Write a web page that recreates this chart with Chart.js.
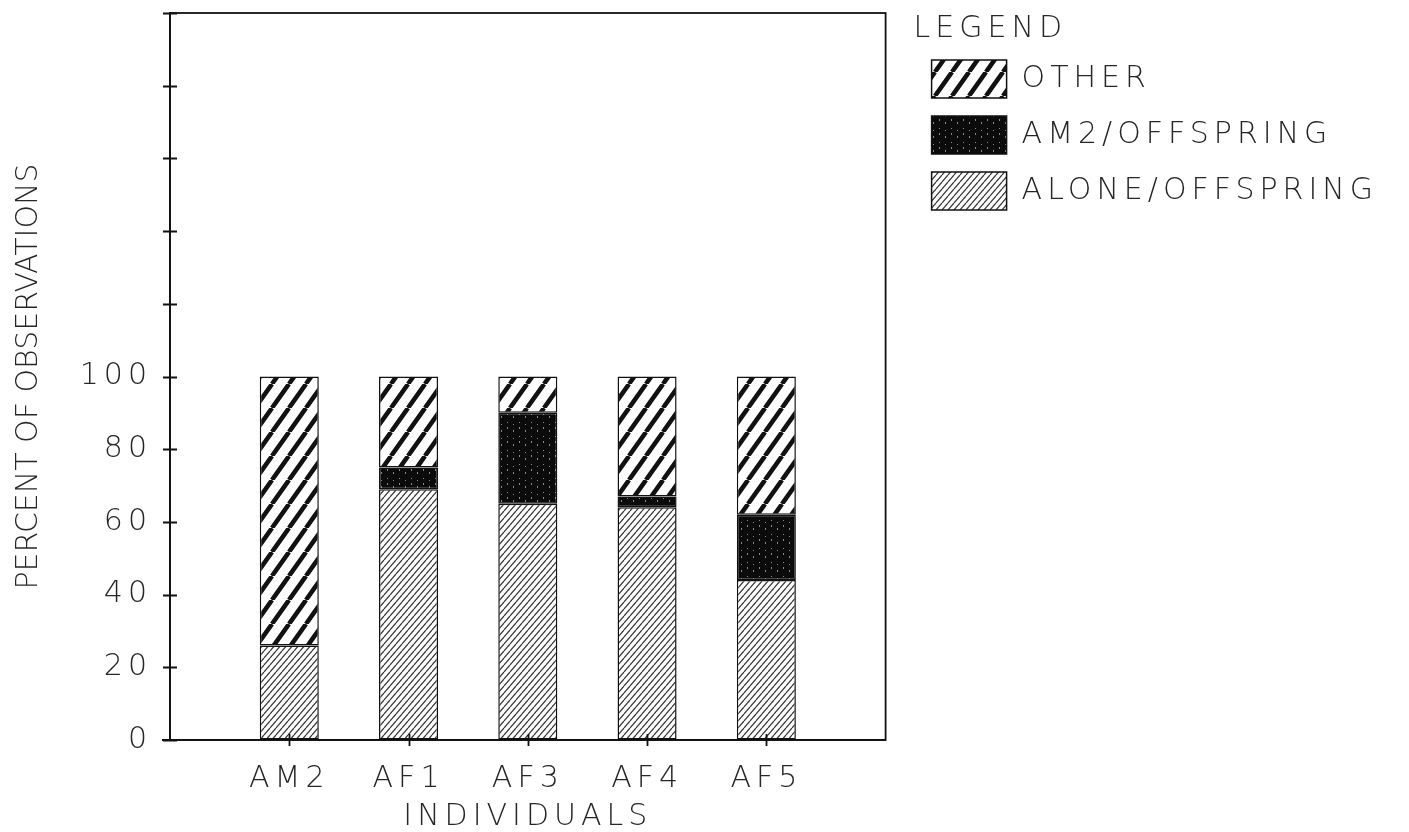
<!DOCTYPE html>
<html>
<head>
<meta charset="utf-8">
<script src="https://cdn.jsdelivr.net/npm/chart.js@4.4.1/dist/chart.umd.min.js"></script>
<style>
html, body { margin: 0; padding: 0; background: #fff; }
#wrap { width: 1409px; height: 832px; }
</style>
</head>
<body>
<div id="wrap"><canvas id="chart"></canvas></div>
<script>
const individuals = ['AM2', 'AF1', 'AF3', 'AF4', 'AF5'];
const aloneOffspring = [26, 69, 65, 64, 44];
const am2Offspring = [0, 6, 25, 3, 18];
const other = [74, 25, 10, 33, 38];
const yLabels = [0, 20, 40, 60, 80, 100]; // axis runs to 200, only these are labelled

const ink = '#111';
const textColor = '#262626';
const fontFamily = '"DejaVu Sans", sans-serif';

function makePattern(w, h, draw) {
    const c = document.createElement('canvas');
    c.width = w;
    c.height = h;
    const g = c.getContext('2d');
    draw(g, w, h);
    return g.createPattern(c, 'repeat');
}

function diagonal(g, w, h) {
    for (const dx of [-w, 0, w]) {
        g.beginPath();
        g.moveTo(dx, h);
        g.lineTo(dx + w, 0);
        g.stroke();
    }
}

// wide bold stripes
const otherFill = makePattern(17, 24, (g, w, h) => {
    g.fillStyle = '#fff';
    g.fillRect(0, 0, w, h);
    g.strokeStyle = ink;
    g.lineWidth = 4.5;
    diagonal(g, w, h);
});

// black with a few light specks
const am2Fill = makePattern(12, 14, (g, w, h) => {
    g.fillStyle = '#0b0b0b';
    g.fillRect(0, 0, w, h);
    g.fillStyle = '#8a8a8a';
    g.fillRect(3, 2, 1, 1);
    g.fillRect(3, 7, 1, 2);
    g.fillRect(9, 4, 1, 1);
    g.fillRect(9, 10, 1, 2);
});

// fine hatching
const aloneFill = makePattern(6, 7, (g, w, h) => {
    g.fillStyle = '#fff';
    g.fillRect(0, 0, w, h);
    g.strokeStyle = '#333';
    g.lineWidth = 1.2;
    diagonal(g, w, h);
});

function points(values) {
    return values.map((v, i) => ({ x: i + 1, y: v }));
}

const font = { family: fontFamily, size: 30, weight: 200, lineHeight: 1 };

// the plotter lettering is widely spaced, except the y title
const spacing = {
    id: 'spacing',
    beforeUpdate(chart) { chart.ctx.letterSpacing = '5px'; },
    afterUpdate(chart) {
        const y = chart.scales.y;
        if (y._plainTitle) return;
        const drawTitle = y.drawTitle;
        y.drawTitle = function () {
            this.ctx.letterSpacing = '0px';
            drawTitle.call(this);
            this.ctx.letterSpacing = '5px';
        };
        y._plainTitle = true;
    },
    beforeDraw(chart) { chart.ctx.letterSpacing = '5px'; }
};

// ticks that cross the axes, plus the frame around the plot
const frame = {
    id: 'frame',
    afterDraw(chart) {
        const { ctx, chartArea: a, scales: { x, y } } = chart;
        ctx.save();
        ctx.strokeStyle = ink;
        ctx.lineWidth = 1.8;
        ctx.strokeRect(a.left, a.top, a.right - a.left, a.bottom - a.top);
        ctx.beginPath();
        y.ticks.forEach(t => {
            const py = Math.round(y.getPixelForValue(t.value)) + 0.5;
            ctx.moveTo(a.left - 7, py);
            ctx.lineTo(a.left + 7, py);
        });
        x.ticks.forEach(t => {
            if (!individuals[t.value - 1]) return;
            const px = Math.round(x.getPixelForValue(t.value)) + 0.5;
            ctx.moveTo(px, a.bottom + 6);
            ctx.lineTo(px, a.bottom - 6);
        });
        ctx.moveTo(a.left - 8, a.bottom);
        ctx.lineTo(a.left, a.bottom);
        ctx.stroke();
        ctx.restore();
    }
};

const barStyle = {
    borderColor: ink,
    borderWidth: 1.5,
    borderSkipped: false,
    barPercentage: 1,
    categoryPercentage: 0.495
};

const ctx = document.getElementById('chart').getContext('2d');
new Chart(ctx, {
    type: 'bar',
    data: {
        datasets: [
            Object.assign({ label: 'ALONE/OFFSPRING', data: points(aloneOffspring), backgroundColor: aloneFill }, barStyle),
            Object.assign({ label: 'AM2/OFFSPRING', data: points(am2Offspring), backgroundColor: am2Fill }, barStyle),
            Object.assign({ label: 'OTHER', data: points(other), backgroundColor: otherFill }, barStyle)
        ]
    },
    options: {
        responsive: true,
        maintainAspectRatio: false,
        animation: false,
        layout: { padding: { top: 13, right: 21, bottom: 0, left: 0 } },
        plugins: {
            tooltip: { enabled: false },
            legend: {
                position: 'right',
                align: 'start',
                reverse: true,
                maxWidth: 700,
                title: {
                    display: true,
                    text: 'LEGEND',
                    position: 'start',
                    color: textColor,
                    font: font,
                    padding: { top: 1, bottom: -2 }
                },
                labels: {
                    boxWidth: 75,
                    boxHeight: 38,
                    padding: 18,
                    color: textColor,
                    font: font
                }
            }
        },
        scales: {
            x: {
                type: 'linear',
                min: 0,
                max: 6,
                offset: false,
                stacked: true,
                ticks: {
                    stepSize: 1,
                    autoSkip: false,
                    maxRotation: 0,
                    padding: 24,
                    color: textColor,
                    font: font,
                    callback: v => individuals[v - 1] || ''
                },
                grid: { display: true, drawOnChartArea: false, drawTicks: false, offset: false },
                border: { color: ink, width: 1.8 },
                title: {
                    display: true,
                    text: 'INDIVIDUALS',
                    color: textColor,
                    font: font,
                    padding: { top: 8, bottom: 0 }
                },
                afterFit: s => { s.height = 92; s.paddingLeft = 0; s.paddingRight = 0; }
            },
            y: {
                min: 0,
                max: 200,
                stacked: true,
                ticks: {
                    stepSize: 20,
                    padding: 18,
                    color: textColor,
                    font: font,
                    callback: v => yLabels.includes(v) ? v : ''
                },
                grid: { display: true, drawOnChartArea: false, drawTicks: false },
                border: { color: ink, width: 1.8 },
                title: {
                    display: true,
                    text: 'PERCENT OF OBSERVATIONS',
                    color: textColor,
                    font: font,
                    padding: { top: 14, bottom: 0 }
                },
                afterFit: s => { s.width = 170; s.paddingTop = 0; s.paddingBottom = 0; }
            },
            gap: {
                position: 'right',
                display: true,
                ticks: { display: false },
                grid: { display: false },
                border: { display: false },
                afterFit: s => { s.width = 28; s.paddingTop = 0; s.paddingBottom = 0; }
            }
        }
    },
    plugins: [spacing, frame]
});
</script>
</body>
</html>
